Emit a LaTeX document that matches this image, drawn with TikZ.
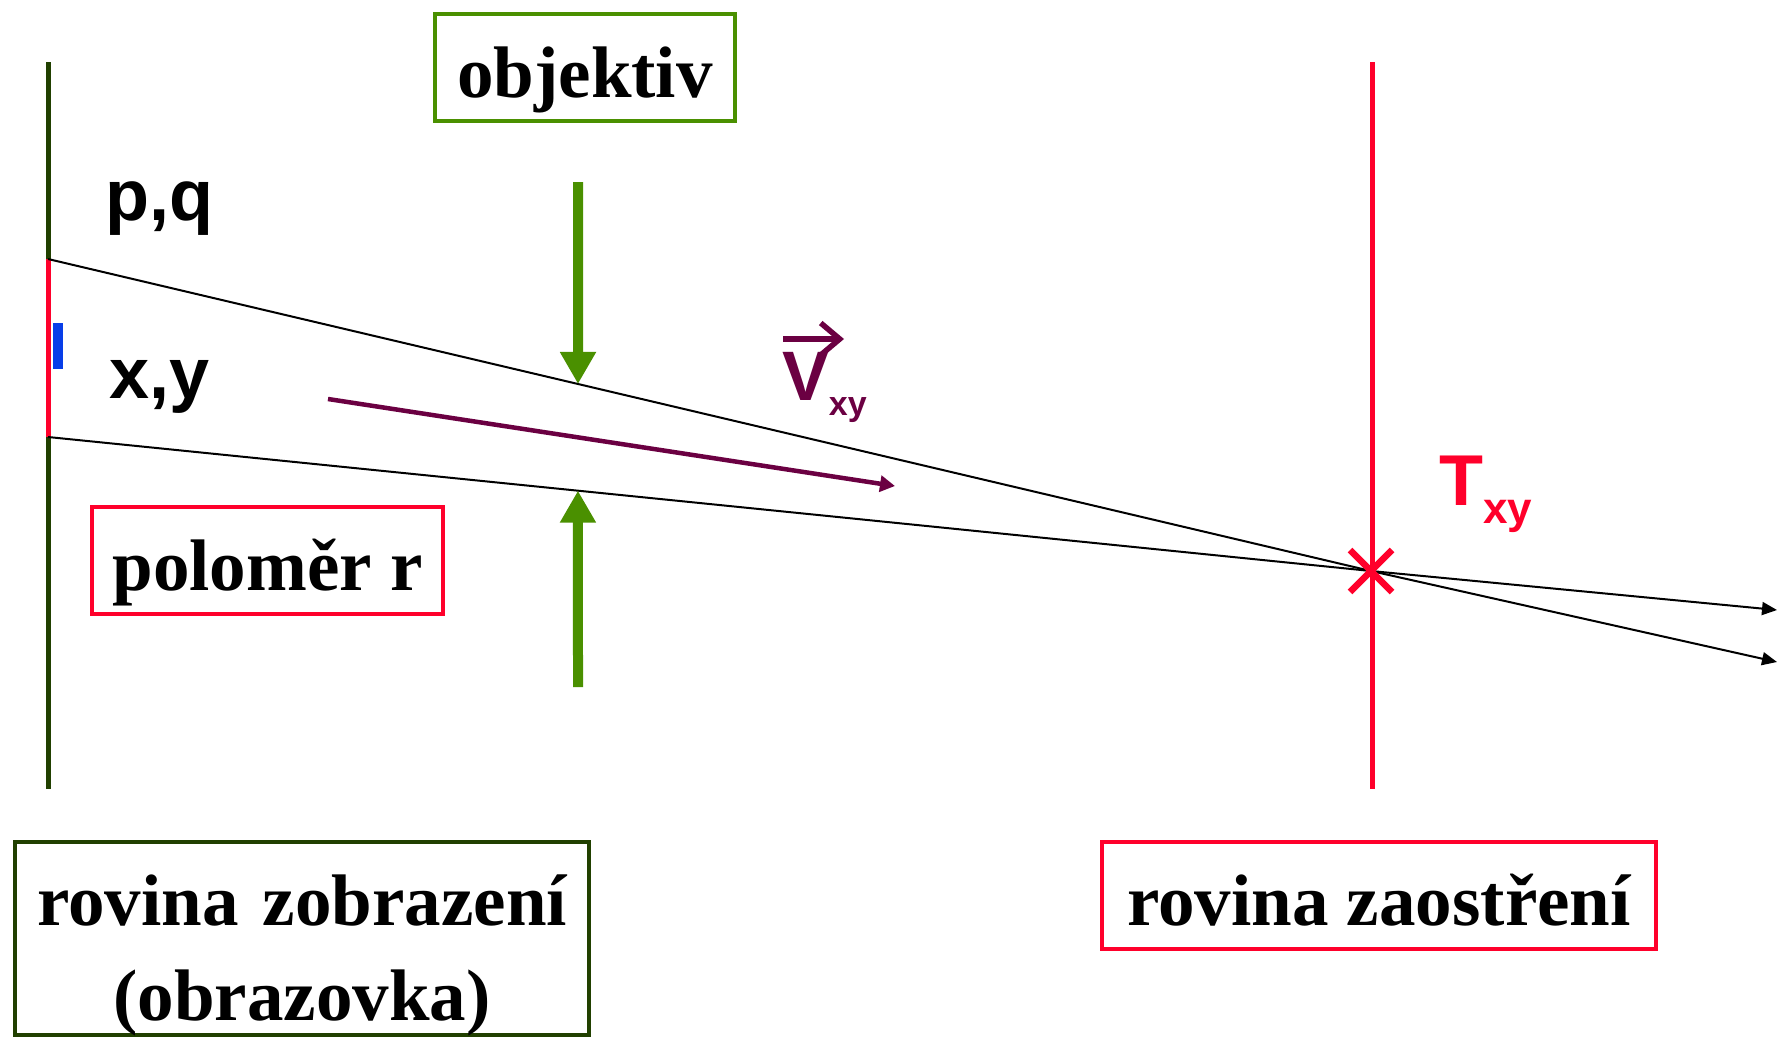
\documentclass[tikz,border=0pt]{standalone}
\usepackage{fontspec}
\setmainfont{Liberation Serif}
\setsansfont{Liberation Sans}
\usepackage{tikz}
\usetikzlibrary{arrows.meta, positioning, calc}
\definecolor{screengreen}{RGB}{33, 64, 0}
\definecolor{lensgreen}{RGB}{74, 144, 0}
\definecolor{focusred}{RGB}{255, 0, 43}
\definecolor{velpurple}{RGB}{107, 0, 66}
\definecolor{pixelblue}{RGB}{8, 62, 232}

\begin{document}
\begin{tikzpicture}[
    x=1pt, y=-1pt,
    % Style definitions
    planebox/.style={draw, line width=4pt, fill=white, inner sep=0pt, anchor=base, text height=83pt, text depth=24pt, font=\rmfamily\bfseries\fontsize{73}{95}\selectfont},
    coordlabel/.style={anchor=base west, inner sep=0pt, font=\sffamily\bfseries\fontsize{72}{80}\selectfont},
    planeline/.style={line width=5pt},
    ray/.style={black, line width=2pt, -{Triangle[length=15pt, width=13pt]}},
    lensarrow/.style={lensgreen, line width=10pt, -{Triangle[length=32pt, width=34pt]}},
    velarrow/.style={velpurple, line width=4.5pt, -{Triangle[length=15pt, width=16pt]}},
    crossline/.style={draw=focusred, line width=6.5pt}
]
    \path[use as bounding box, fill=white] (0,0) rectangle (1779,1039);

    % === KEY POINTS ===
    \coordinate (scr_top) at (48,62);
    \coordinate (scr_bot) at (48,789);
    \coordinate (pq_pt) at (48,259);
    \coordinate (xy_pt) at (48,437);
    \coordinate (foc_top) at (1372,62);
    \coordinate (foc_bot) at (1372,789);
    \coordinate (focus_pt) at (1371,571);
    \coordinate (ray1_end) at (1777,662);
    \coordinate (ray2_end) at (1777,610);
    \coordinate (lens_top) at (578,182);
    \coordinate (lens_bot) at (578,687);
    \coordinate (hit_top) at (intersection of pq_pt--focus_pt and lens_top--lens_bot);
    \coordinate (hit_bot) at (intersection of xy_pt--focus_pt and lens_top--lens_bot);
    \coordinate (vel_start) at (328,399);
    \coordinate (vel_end) at (895,486);

    % === PLANES ===
    \draw[planeline, screengreen] (scr_top) -- (scr_bot);
    \draw[planeline, focusred] (pq_pt) -- (xy_pt);
    \draw[planeline, focusred] (foc_top) -- (foc_bot);
    \fill[pixelblue] (53,323) rectangle (63,369);

    % === RAYS ===
    \draw[ray] (pq_pt) -- (focus_pt) -- (ray1_end);
    \draw[ray] (xy_pt) -- (focus_pt) -- (ray2_end);
    \path[crossline] ($(focus_pt)+(-21,-21)$) -- ($(focus_pt)+(21,21)$);
    \path[crossline] ($(focus_pt)+(-21,21)$) -- ($(focus_pt)+(21,-21)$);

    \draw[lensarrow] (lens_top) -- (hit_top);
    \draw[lensarrow] (lens_bot) -- (hit_bot);
    \draw[velarrow] (vel_start) -- (vel_end);

    % === LABELS ===
    \node (pq_label) [coordlabel] at (105,220) {p,q};
    \node (xy_label) [coordlabel] at (109,398) {x,y};
    \node (t_label) [coordlabel, text=focusred] at (1439,505) {T\raisebox{-18pt}{\fontsize{44}{44}\selectfont xy}};
    \node (v_label) [coordlabel, text=velpurple, font=\sffamily\bfseries\fontsize{70}{80}\selectfont] at (782,400) {V\raisebox{-15pt}{\fontsize{34}{34}\selectfont xy}};
    \draw[velpurple, line width=5.5pt, -{Straight Barb[length=19pt, width=32pt]}] ($(v_label.base west)+(1,-61)$) -- ($(v_label.base west)+(62,-61)$);

    % === BOXES ===
    \node (obj_box) [planebox, draw=lensgreen, minimum width=300pt] at (585,97) {objektiv};
    \node (radius_box) [planebox, draw=focusred, minimum width=351pt] at (267.5,590) {poloměr r};
    \node (focus_box) [planebox, draw=focusred, minimum width=554pt] at (1379,925) {rovina zaostření};
    \node (screen_box) [planebox, draw=screengreen, text width=574pt, align=center, text depth=110pt] at (302,925) {rovina zobrazení\\(obrazovka)};

\end{tikzpicture}
\end{document}
